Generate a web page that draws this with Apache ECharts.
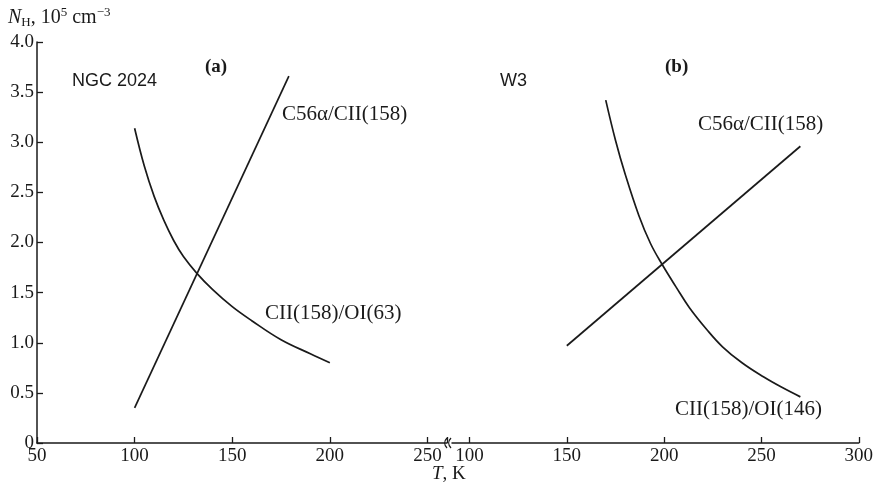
<!DOCTYPE html>
<html>
<head>
<meta charset="utf-8">
<script src="https://cdn.jsdelivr.net/npm/echarts@6/dist/echarts.min.js"></script>
<style>html,body{margin:0;padding:0;background:#fff}#c{width:876px;height:485px}</style>
</head>
<body>
<div id="c"></div>
<script>
// Panel (a) NGC 2024
var tA_c56 = [100, 179];
var nA_c56 = [0.35, 3.66];
var tA_cii = [100, 105, 110, 115, 120, 125, 132, 140, 150, 160, 175, 190, 200];
var nA_cii = [3.14, 2.76, 2.46, 2.22, 2.02, 1.86, 1.69, 1.53, 1.36, 1.22, 1.03, 0.89, 0.80];
// Panel (b) W3
var tB_c56 = [150, 270];
var nB_c56 = [0.97, 2.96];
var tB_cii = [170, 175, 180, 187, 193, 199, 206, 213, 222, 230, 240, 251, 260, 270];
var nB_cii = [3.42, 3.02, 2.68, 2.27, 1.99, 1.78, 1.56, 1.35, 1.13, 0.96, 0.80, 0.66, 0.56, 0.46];
// Tick labels
var xTicksA = [50, 100, 150, 200, 250];
var xTicksB = [100, 150, 200, 250, 300];

function pairs(xs, ys) { return xs.map(function (x, i) { return [x, ys[i]]; }); }

var serif = '"Liberation Serif", "DejaVu Serif", serif';
var sans = '"Liberation Sans", Arial, sans-serif';
var ink = '#1a1a1a';
var lineStyle = { color: ink, width: 1.7 };
var axisLine = { show: true, lineStyle: { color: ink, width: 1.5 } };
var axisTick = { show: true, inside: true, length: 6, lineStyle: { color: ink, width: 1.3 } };
var tickFont = { color: ink, fontFamily: serif, fontSize: 19 };

var chart = echarts.init(document.getElementById('c'));
chart.setOption({
  backgroundColor: '#fff',
  animation: false,
  grid: [
    { left: 37, top: 42, width: 410, height: 401 },
    { left: 452, top: 42, width: 407, height: 401 }
  ],
  xAxis: [
    {
      gridIndex: 0, type: 'value', min: 50, max: 260,
      axisLine: axisLine,
      axisTick: Object.assign({}, axisTick, { customValues: xTicksA.concat([260]) }),
      axisLabel: Object.assign({ customValues: xTicksA, margin: 4 }, tickFont),
      splitLine: { show: false }
    },
    {
      gridIndex: 1, type: 'value', min: 91, max: 300,
      axisLine: axisLine,
      axisTick: Object.assign({}, axisTick, { customValues: xTicksB }),
      axisLabel: Object.assign({ customValues: xTicksB, margin: 4 }, tickFont),
      splitLine: { show: false }
    }
  ],
  yAxis: [
    {
      gridIndex: 0, type: 'value', min: 0, max: 4, interval: 0.5,
      axisLine: axisLine,
      axisTick: axisTick,
      axisLabel: Object.assign({
        margin: 3,
        formatter: function (v) { return v === 0 ? '0' : v.toFixed(1); }
      }, tickFont),
      splitLine: { show: false }
    },
    {
      gridIndex: 1, type: 'value', min: 0, max: 4, interval: 0.5,
      show: false, splitLine: { show: false }
    }
  ],
  series: [
    { type: 'line', xAxisIndex: 0, yAxisIndex: 0, data: pairs(tA_c56, nA_c56), showSymbol: false, lineStyle: lineStyle, silent: true },
    { type: 'line', xAxisIndex: 0, yAxisIndex: 0, data: pairs(tA_cii, nA_cii), smooth: 0.4, showSymbol: false, lineStyle: lineStyle, silent: true },
    { type: 'line', xAxisIndex: 1, yAxisIndex: 1, data: pairs(tB_c56, nB_c56), showSymbol: false, lineStyle: lineStyle, silent: true },
    { type: 'line', xAxisIndex: 1, yAxisIndex: 1, data: pairs(tB_cii, nB_cii), smooth: 0.4, showSymbol: false, lineStyle: lineStyle, silent: true }
  ],
  graphic: [
    {
      type: 'text', x: 8, y: 18,
      style: {
        text: '{i|N}{sub|H}{n|, 10}{sup|5}{n| cm}{sup|−3}',
        verticalAlign: 'middle', align: 'left',
        rich: {
          i: { fontFamily: serif, fontStyle: 'italic', fontSize: 20, fill: ink },
          n: { fontFamily: serif, fontSize: 20, fill: ink },
          sub: { fontFamily: serif, fontSize: 13, fill: ink, padding: [10, 0, 0, 0] },
          sup: { fontFamily: serif, fontSize: 13, fill: ink, padding: [0, 0, 10, 0] }
        }
      }
    },
    { type: 'text', x: 72, y: 81, style: { text: 'NGC 2024', font: '18px ' + sans, fill: ink, verticalAlign: 'middle' } },
    { type: 'text', x: 205, y: 67, style: { text: '(a)', font: 'bold 19px ' + serif, fill: ink, verticalAlign: 'middle' } },
    { type: 'text', x: 500, y: 81, style: { text: 'W3', font: '18px ' + sans, fill: ink, verticalAlign: 'middle' } },
    { type: 'text', x: 665, y: 67, style: { text: '(b)', font: 'bold 19px ' + serif, fill: ink, verticalAlign: 'middle' } },
    { type: 'text', x: 282, y: 114, style: { text: 'C56α/CII(158)', font: '21px ' + serif, fill: ink, verticalAlign: 'middle' } },
    { type: 'text', x: 265, y: 313, style: { text: 'CII(158)/OI(63)', font: '21px ' + serif, fill: ink, verticalAlign: 'middle' } },
    { type: 'text', x: 698, y: 124, style: { text: 'C56α/CII(158)', font: '21px ' + serif, fill: ink, verticalAlign: 'middle' } },
    { type: 'text', x: 675, y: 409, style: { text: 'CII(158)/OI(146)', font: '21px ' + serif, fill: ink, verticalAlign: 'middle' } },
    {
      type: 'text', x: 432, y: 474,
      style: {
        text: '{i|T}{n|, K}',
        verticalAlign: 'middle', align: 'left',
        rich: {
          i: { fontFamily: serif, fontStyle: 'italic', fontSize: 19, fill: ink },
          n: { fontFamily: serif, fontSize: 19, fill: ink }
        }
      }
    },
    // axis break marks
    { type: 'rect', shape: { x: 446, y: 438, width: 6, height: 10 }, style: { fill: '#fff' } },
    { type: 'bezierCurve', shape: { x1: 447, y1: 438, x2: 447, y2: 448, cpx1: 444, cpy1: 441, cpx2: 444, cpy2: 445 }, style: { stroke: ink, lineWidth: 1.3, fill: null } },
    { type: 'bezierCurve', shape: { x1: 451, y1: 438, x2: 451, y2: 448, cpx1: 448, cpy1: 441, cpx2: 448, cpy2: 445 }, style: { stroke: ink, lineWidth: 1.3, fill: null } }
  ]
});
</script>
</body>
</html>
